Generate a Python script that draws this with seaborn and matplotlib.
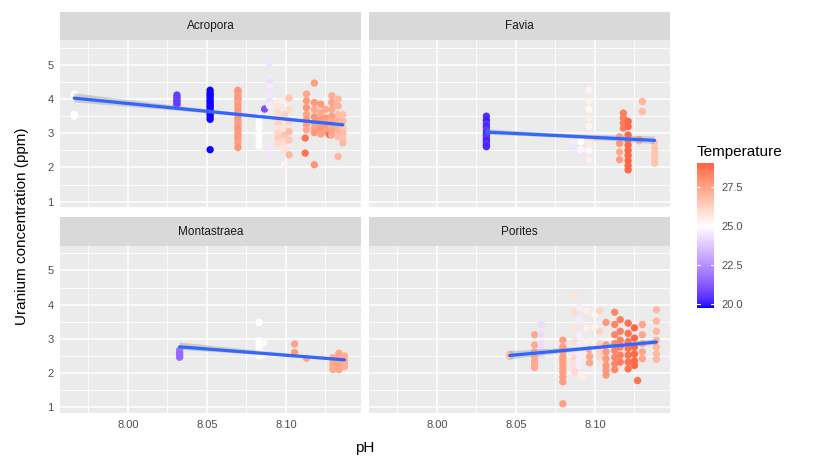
import numpy as np
import pandas as pd
import matplotlib
matplotlib.use("Agg")
import matplotlib.pyplot as plt
import seaborn as sns
from matplotlib.colors import ListedColormap, Normalize
from matplotlib.colorbar import ColorbarBase
from matplotlib.patches import Rectangle

# ---------------- data ----------------
species = ["Acropora", "Favia", "Montastraea", "Porites"]

# Each species: list of pH strips, uranium values per strip, temperature per strip
acro_ph = [7.966, 8.031, 8.052, 8.0696, 8.083, 8.0865, 8.0896, 8.095, 8.099, 8.102,
           8.1122, 8.113, 8.118, 8.122, 8.125, 8.1276, 8.129, 8.133, 8.136]
acro_u = [
    [4.15, 4.08, 3.55, 3.50],
    [4.12, 4.05, 3.99, 3.94, 3.88, 3.84],
    [4.26, 4.18, 4.12, 4.07, 3.99, 3.93, 3.88, 3.81, 3.77, 3.70, 3.62, 3.57, 3.49, 3.41, 2.52],
    [4.26, 4.20, 4.11, 4.03, 3.97, 3.88, 3.80, 3.72, 3.61, 3.55, 3.46, 3.37, 3.28, 3.20, 3.11,
     3.00, 2.93, 2.84, 2.72, 2.58],
    [3.48, 3.31, 3.15, 2.95, 2.78, 2.63],
    [3.71],
    [5.06, 4.66, 4.50, 4.37, 4.22, 4.08, 3.93, 3.80, 2.65, 2.34],
    [3.90, 3.78, 3.60, 3.45, 3.30, 3.15, 3.00, 2.85, 2.70],
    [3.95, 3.55, 3.20, 2.95, 2.75, 2.55, 2.08],
    [4.03, 3.70, 3.35, 3.05, 2.80, 2.37],
    [2.86, 2.42],
    [4.15, 3.95, 3.75, 3.55, 3.40, 3.25, 3.10],
    [4.47, 3.90, 3.70, 3.48, 3.30, 3.15, 3.02, 2.08],
    [3.85, 3.60, 3.40, 3.25, 3.12, 2.98],
    [3.70, 3.45, 3.30, 3.15, 3.05],
    [2.96],
    [4.10, 3.90, 3.70, 3.50, 3.35, 3.20, 3.08, 2.95],
    [4.00, 3.80, 3.55, 3.40, 3.22, 3.10, 2.90, 2.32],
    [3.55, 3.35, 3.15, 3.00, 2.85, 2.72],
]
acro_t = [
    [25.0, 25.1, 25.0, 25.0],
    [20.6],
    [19.8],
    [27.7, 27.9, 27.6, 27.8, 27.7, 27.5, 27.8, 27.7, 27.9, 27.6, 27.7, 27.8, 27.5, 27.7, 27.9,
     27.6, 27.8, 27.7, 27.5, 27.8],
    [25.0],
    [21.0],
    [24.4, 24.5, 24.3, 24.6, 24.4, 24.5, 24.3, 24.6, 24.5, 24.4],
    [25.6, 25.8, 26.0, 25.9, 26.3, 25.7, 26.1, 26.4, 26.0],
    [25.5, 26.2, 25.8, 26.5, 26.0, 25.7, 25.3],
    [26.6, 26.0, 26.3, 26.8, 26.5, 27.0],
    [28.7],
    [27.4, 27.7, 27.9, 27.5, 27.8, 27.6, 27.4],
    [27.6, 27.8, 27.4, 27.9, 27.7, 27.5, 27.8, 27.9],
    [27.7, 27.4, 27.8, 27.6, 27.9, 27.5],
    [27.4, 27.7, 27.6, 27.8, 27.5],
    [28.8],
    [27.2, 27.5, 27.3, 27.6, 27.4, 27.2, 27.5, 27.3],
    [26.9, 27.1, 26.8, 27.0, 26.9, 27.2, 26.8, 27.0],
    [26.7, 26.9, 26.6, 26.8, 26.7, 26.9],
]

favia_ph = [8.0313, 8.086, 8.091, 8.0962, 8.101, 8.1156, 8.118, 8.121, 8.128, 8.130, 8.1378]
favia_u = [
    [3.50, 3.38, 3.28, 3.19, 3.10, 3.02, 2.95, 2.89, 2.82, 2.76, 2.70, 2.65, 2.61],
    [2.72, 2.60],
    [2.75, 2.52],
    [4.27, 3.95, 3.70, 3.45, 3.20, 2.95, 2.70, 2.50, 2.23],
    [2.85],
    [2.90, 2.70, 2.45, 2.23],
    [3.59, 3.45, 3.30, 3.15],
    [3.35, 3.20, 2.95, 2.80, 2.65, 2.50, 2.35, 2.20, 2.05, 1.93],
    [2.82, 2.78],
    [3.93, 3.64],
    [2.71, 2.55, 2.40, 2.25, 2.13],
]
favia_t = [
    [20.3, 20.1, 20.4, 20.2, 20.5, 20.3, 20.2, 20.4, 20.3, 20.1, 20.4, 20.3, 20.2],
    [24.6, 24.4],
    [25.0, 24.8],
    [25.3, 25.4, 25.2, 25.5, 25.3, 25.4, 25.6, 25.2, 25.5],
    [26.0],
    [27.5, 27.8, 27.3, 27.6],
    [28.4],
    [28.9],
    [27.3, 27.1],
    [27.0, 26.8],
    [26.6],
]

mont_ph = [8.0327, 8.083, 8.086, 8.1055, 8.113, 8.1297, 8.1335, 8.137]
mont_u = [
    [2.66, 2.60, 2.55, 2.50, 2.46],
    [3.48, 2.95, 2.85, 2.75, 2.62, 2.50],
    [2.88, 2.55],
    [2.85, 2.60],
    [2.43],
    [2.45, 2.32, 2.20, 2.10],
    [2.58, 2.46, 2.35, 2.25, 2.16, 2.10],
    [2.50, 2.38, 2.28, 2.18],
]
mont_t = [
    [21.6, 21.8, 21.5, 21.7, 21.6],
    [25.0],
    [25.1],
    [27.5, 27.7],
    [27.4],
    [27.3],
    [27.4],
    [27.2],
]

por_ph = [8.046, 8.0618, 8.066, 8.0797, 8.0872, 8.090, 8.092, 8.0946, 8.0966, 8.100, 8.103,
          8.107, 8.1125, 8.116, 8.121, 8.125, 8.127, 8.130, 8.1389]
por_u = [
    [2.55, 2.48],
    [3.12, 2.82, 2.62, 2.46, 2.34, 2.24, 2.16],
    [3.42, 3.12, 2.86, 2.66, 2.52],
    [2.96, 2.76, 2.62, 2.46, 2.36, 2.26, 2.14, 2.02, 1.88, 1.74, 1.10],
    [4.25, 3.80, 3.36, 2.92, 2.62, 2.42, 2.27, 2.12, 2.02],
    [3.92, 3.52, 3.12, 2.82, 2.56, 2.37, 2.22],
    [1.90],
    [3.82, 3.32, 2.92, 2.66, 2.46],
    [2.68, 2.48, 2.30],
    [3.72, 3.32, 2.92, 2.66],
    [3.82, 3.22, 2.86, 2.62, 2.46],
    [3.48, 2.82, 2.62, 2.42, 2.22, 2.08, 1.94],
    [3.78, 3.42, 3.12, 2.86, 2.66, 2.46, 2.27, 2.10],
    [3.56, 3.22, 2.96, 2.76, 2.52, 2.32],
    [3.46, 3.16, 2.92, 2.72, 2.52, 2.32, 2.12],
    [3.32, 3.02, 2.76, 2.56, 2.36, 2.22],
    [1.78],
    [3.42, 3.12, 2.86, 2.62, 2.42],
    [3.85, 3.52, 3.22, 2.96, 2.76, 2.56, 2.40],
]
por_t = [
    [26.8, 26.6],
    [27.3],
    [24.2],
    [27.6],
    [25.8, 26.0, 25.7, 25.9, 25.8, 26.1, 25.8, 25.9, 26.0],
    [24.6],
    [25.5],
    [25.5],
    [27.4],
    [25.3],
    [26.2],
    [27.8],
    [28.2],
    [28.4],
    [28.7],
    [28.9],
    [28.7],
    [27.4],
    [26.9],
]

temp_low, temp_high, temp_mid = 19.74, 29.04, 25.0
legend_ticks = [20.0, 22.5, 25.0, 27.5]

# ---------------- build table ----------------
rows = []
for sp, phs, us, ts in zip(species, [acro_ph, favia_ph, mont_ph, por_ph],
                           [acro_u, favia_u, mont_u, por_u],
                           [acro_t, favia_t, mont_t, por_t]):
    for ph, ul, tl in zip(phs, us, ts):
        if len(tl) == 1:
            tl = tl * len(ul)
        for u, t in zip(ul, tl):
            rows.append((sp, ph, u, t))
df = pd.DataFrame(rows, columns=["species", "pH", "U", "Temperature"])

# ---------------- colour scale (ggplot gradient2 style, Lab interpolation) ----------------
M = np.array([[0.4124564, 0.3575761, 0.1804375],
              [0.2126729, 0.7151522, 0.0721750],
              [0.0193339, 0.1191920, 0.9503041]])
WP = np.array([0.95047, 1.0, 1.08883])


def rgb2lab(rgb):
    c = np.asarray(rgb, float) / 255.0
    lin = np.where(c <= 0.04045, c / 12.92, ((c + 0.055) / 1.055) ** 2.4)
    xyz = M @ lin / WP
    f = np.where(xyz > 0.008856, np.cbrt(xyz), 7.787 * xyz + 16 / 116)
    return np.array([116 * f[1] - 16, 500 * (f[0] - f[1]), 200 * (f[1] - f[2])])


def lab2rgb(lab):
    L, a, b = lab
    fy = (L + 16) / 116
    fx = fy + a / 500
    fz = fy - b / 200
    f = np.array([fx, fy, fz])
    xyz = np.where(f ** 3 > 0.008856, f ** 3, (f - 16 / 116) / 7.787) * WP
    lin = np.linalg.solve(M, xyz)
    lin = np.clip(lin, 0, 1)
    c = np.where(lin <= 0.0031308, 12.92 * lin, 1.055 * lin ** (1 / 2.4) - 0.055)
    return np.clip(c, 0, 1)


LOW, MID, HIGH = rgb2lab((0, 0, 255)), rgb2lab((255, 255, 255)), rgb2lab((255, 0, 0))
maxdev = max(abs(temp_low - temp_mid), abs(temp_high - temp_mid))


def temp_color(t):
    f = 0.5 + (t - temp_mid) / (2 * maxdev)
    if f < 0.5:
        w = f / 0.5
        lab = LOW + (MID - LOW) * w
    else:
        w = (f - 0.5) / 0.5
        lab = MID + (HIGH - MID) * w
    return lab2rgb(lab)


cmap = ListedColormap([temp_color(t) for t in np.linspace(temp_low, temp_high, 256)])
norm = Normalize(vmin=temp_low, vmax=temp_high)

# ---------------- plot ----------------
sns.set_theme(style="darkgrid")
plt.rcParams["font.family"] = ["Liberation Sans", "DejaVu Sans"]

g = sns.FacetGrid(df, col="species", col_order=species, col_wrap=2,
                  sharex=True, sharey=True, height=2, aspect=1.5, despine=False)
fig = g.figure
fig.set_size_inches(8.15, 4.58)
fig.set_dpi(100)
fig.subplots_adjust(left=60 / 815, right=670 / 815, top=1 - 40 / 458, bottom=1 - 413 / 458,
                    wspace=8 / 301, hspace=38 / 167)

strip_h = 28 / 167
for i, sp in enumerate(species):
    ax = g.axes_dict[sp]
    sub = df[df["species"] == sp]
    ax.set_facecolor("#EBEBEB")
    ax.scatter(sub["pH"], sub["U"], c=sub["Temperature"], cmap=cmap, norm=norm,
               s=28, linewidths=0, zorder=2)
    n_before = len(ax.collections)
    sns.regplot(data=sub, x="pH", y="U", scatter=False, ax=ax, ci=68,
                color="#3366FF", line_kws=dict(lw=2.3, zorder=4))
    for coll in ax.collections[n_before:]:
        coll.set_facecolor("#999999")
        coll.set_alpha(0.4)
        coll.set_edgecolor("none")
        coll.set_zorder(3)
    ax.set_xlim(7.957, 8.1475)
    ax.set_ylim(0.83, 5.73)
    ax.set_xticks([8.00, 8.05, 8.10])
    ax.set_xticks([7.975, 8.025, 8.075, 8.125], minor=True)
    ax.set_yticks([1, 2, 3, 4, 5])
    ax.set_yticks([1.5, 2.5, 3.5, 4.5, 5.5], minor=True)
    ax.grid(which="major", color="white", lw=1.1)
    ax.grid(which="minor", color="white", lw=0.55)
    ax.set_axisbelow(True)
    for s in ax.spines.values():
        s.set_visible(False)
    ax.set_xlabel("")
    ax.set_ylabel("")
    ax.set_title("")
    bottom_row = i >= 2
    left_col = i % 2 == 0
    ax.tick_params(axis="x", which="major", length=2.75 if bottom_row else 0, width=0.8,
                   color="#333333", labelsize=8, labelcolor="#4D4D4D", pad=2,
                   labelbottom=bottom_row)
    ax.tick_params(axis="y", which="major", length=2.75 if left_col else 0, width=0.8,
                   color="#333333", labelsize=8, labelcolor="#4D4D4D", pad=2,
                   labelleft=left_col)
    ax.tick_params(which="minor", length=0)
    if bottom_row:
        ax.set_xticklabels(["8.00", "8.05", "8.10"])
    if left_col:
        ax.set_yticklabels(["1", "2", "3", "4", "5"])
    ax.add_patch(Rectangle((0, 1), 1, strip_h, transform=ax.transAxes,
                           facecolor="#D9D9D9", edgecolor="none", clip_on=False))
    ax.text(0.5, 1 + strip_h / 2, sp, transform=ax.transAxes, ha="center", va="center",
            fontsize=8.5, color="#1A1A1A")

fig.text(22 / 815, 1 - 226.5 / 458, "Uranium concentration (ppm)", rotation=90,
         ha="center", va="center", fontsize=11, color="black")
fig.text(365 / 815, 1 - 448 / 458, "pH", ha="center", va="center", fontsize=11, color="black")

# colour bar legend
cax = fig.add_axes([697 / 815, 1 - 308 / 458, 17 / 815, 145 / 458])
cb = ColorbarBase(cax, cmap=cmap, norm=norm, orientation="vertical", ticks=legend_ticks)
cb.outline.set_visible(False)
cax.set_yticklabels([f"{t:.1f}" for t in legend_ticks])
cax.tick_params(length=0, labelsize=8, labelcolor="#4D4D4D", pad=5)
for t in legend_ticks:
    cax.plot([0, 0.2], [t, t], color="white", lw=0.8, transform=cax.get_yaxis_transform())
    cax.plot([0.8, 1.0], [t, t], color="white", lw=0.8, transform=cax.get_yaxis_transform())
fig.text(697 / 815, 1 - 152 / 458, "Temperature", ha="left", va="center", fontsize=11,
         color="black")

fig.savefig("out.png", dpi=100, facecolor="white")
